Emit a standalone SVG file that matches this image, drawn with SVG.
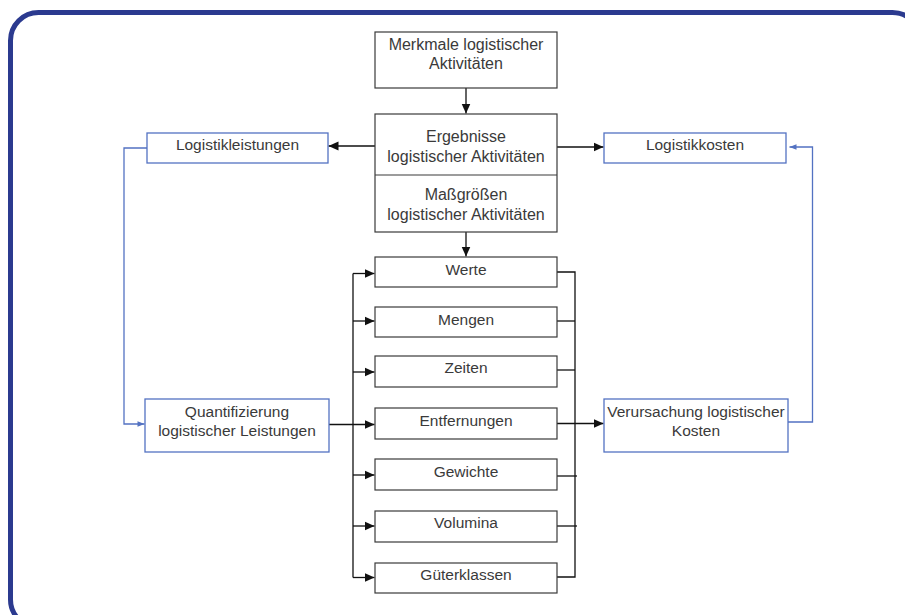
<svg xmlns="http://www.w3.org/2000/svg" width="905" height="615" viewBox="0 0 905 615">
  <style>
    .frame { fill: none; stroke: #2B3A8F; stroke-width: 5; }
    .box { fill: #ffffff; stroke: #3a3a3a; stroke-width: 1.2; }
    .bbox { fill: #ffffff; stroke: #5372C2; stroke-width: 1.3; }
    .lbl { font-family: "Liberation Sans", Arial, sans-serif; font-size: 15.5px; fill: #3a3a3a; text-anchor: middle; }
    .big { font-size: 16px; }
    .wire { fill: none; stroke: #111111; stroke-width: 1.3; }
    .bwire { fill: none; stroke: #5372C2; stroke-width: 1.3; }
  </style>
  <defs>
    <marker id="ah" viewBox="0 0 10 10" refX="10" refY="5" markerWidth="10" markerHeight="10" markerUnits="userSpaceOnUse" orient="auto">
      <path d="M0,0.5 L10,5 L0,9.5 Z" fill="#111111"/>
    </marker>
    <marker id="ahb" viewBox="0 0 10 10" refX="10" refY="5" markerWidth="8" markerHeight="7" markerUnits="userSpaceOnUse" orient="auto">
      <path d="M0,1 L10,5 L0,9 Z" fill="#5372C2"/>
    </marker>
  </defs>

  <rect width="905" height="615" fill="#ffffff"/>
  <!-- outer frame -->
  <rect class="frame" x="10.5" y="12.5" width="910" height="615" rx="28" ry="28"/>

  <!-- connectors -->
  <g id="connectors">
    <path class="wire" d="M466,88 V113.5" marker-end="url(#ah)"/>
    <path class="wire" d="M466,232 V256.5" marker-end="url(#ah)"/>
    <path class="wire" d="M375,146 H328.5" marker-end="url(#ah)"/>
    <path class="wire" d="M557,147 H603.5" marker-end="url(#ah)"/>
    <!-- distribution bus on the left -->
    <path class="wire" d="M353,273.5 V577.5"/>
    <path class="wire" d="M353,273.5 H374.5" marker-end="url(#ah)"/>
    <path class="wire" d="M353,321 H374.5" marker-end="url(#ah)"/>
    <path class="wire" d="M353,372 H374.5" marker-end="url(#ah)"/>
    <path class="wire" d="M329,424.5 H374.5" marker-end="url(#ah)"/>
    <path class="wire" d="M353,475 H374.5" marker-end="url(#ah)"/>
    <path class="wire" d="M353,526 H374.5" marker-end="url(#ah)"/>
    <path class="wire" d="M353,577.5 H374.5" marker-end="url(#ah)"/>
    <!-- collecting bus on the right -->
    <path class="wire" d="M557,272 H575 V577 H557"/>
    <path class="wire" d="M557,321 H575"/>
    <path class="wire" d="M557,370 H575"/>
    <path class="wire" d="M557,476 H577"/>
    <path class="wire" d="M557,526 H577"/>
    <path class="wire" d="M557,423.5 H603.5" marker-end="url(#ah)"/>
    <!-- blue feedback loops -->
    <path class="bwire" d="M147,148 H124 V424 H144.5" marker-end="url(#ahb)"/>
    <path class="bwire" d="M788,422 H812.5 V147 H789.5" marker-end="url(#ahb)"/>
  </g>

  <g id="merkmale">
    <rect class="box" x="375" y="32" width="182" height="56"/>
    <text class="lbl big" x="466" y="49.5">Merkmale logistischer</text>
    <text class="lbl big" x="466" y="68.5">Aktivitäten</text>
  </g>

  <g id="ergebnisse">
    <rect class="box" x="375" y="114" width="182" height="118"/>
    <line class="box" x1="375" y1="175" x2="557" y2="175"/>
    <text class="lbl big" x="466" y="142">Ergebnisse</text>
    <text class="lbl big" x="466" y="162">logistischer Aktivitäten</text>
    <text class="lbl big" x="466" y="200">Maßgrößen</text>
    <text class="lbl big" x="466" y="219.5">logistischer Aktivitäten</text>
  </g>

  <g id="logistikleistungen">
    <rect class="bbox" x="147" y="133" width="181" height="30"/>
    <text class="lbl" x="237.5" y="149.5">Logistikleistungen</text>
  </g>

  <g id="logistikkosten">
    <rect class="bbox" x="604" y="133" width="182" height="30"/>
    <text class="lbl" x="695" y="149.5">Logistikkosten</text>
  </g>

  <g id="quantifizierung">
    <rect class="bbox" x="145" y="399" width="184" height="53"/>
    <text class="lbl" x="237" y="417">Quantifizierung</text>
    <text class="lbl" x="237" y="435.5">logistischer Leistungen</text>
  </g>

  <g id="verursachung">
    <rect class="bbox" x="604" y="399" width="184" height="53"/>
    <text class="lbl" x="696" y="417">Verursachung logistischer</text>
    <text class="lbl" x="696" y="435.5">Kosten</text>
  </g>

  <g id="werte">
    <rect class="box" x="375" y="257" width="182" height="30"/>
    <text class="lbl" x="466" y="274.5">Werte</text>
  </g>
  <g id="mengen">
    <rect class="box" x="375" y="307" width="182" height="30"/>
    <text class="lbl" x="466" y="324.5">Mengen</text>
  </g>
  <g id="zeiten">
    <rect class="box" x="375" y="356" width="182" height="31"/>
    <text class="lbl" x="466" y="372.5">Zeiten</text>
  </g>
  <g id="entfernungen">
    <rect class="box" x="375" y="408" width="182" height="31"/>
    <text class="lbl" x="466" y="425.5">Entfernungen</text>
  </g>
  <g id="gewichte">
    <rect class="box" x="375" y="459" width="182" height="31"/>
    <text class="lbl" x="466" y="477">Gewichte</text>
  </g>
  <g id="volumina">
    <rect class="box" x="375" y="511" width="182" height="31"/>
    <text class="lbl" x="466" y="528">Volumina</text>
  </g>
  <g id="gueterklassen">
    <rect class="box" x="375" y="563" width="182" height="30"/>
    <text class="lbl" x="466" y="579.5">Güterklassen</text>
  </g>
</svg>
